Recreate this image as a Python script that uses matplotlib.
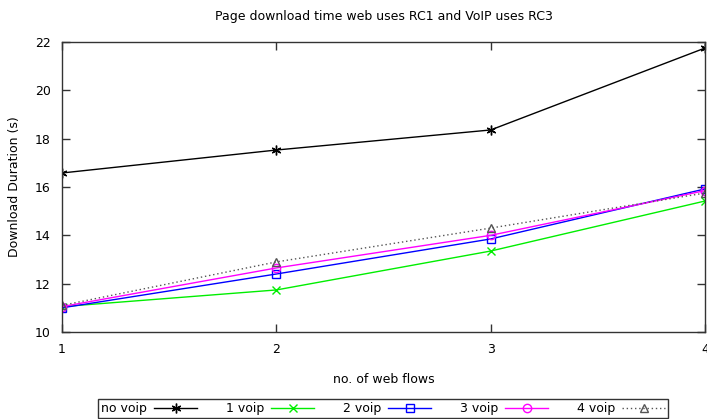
import matplotlib
matplotlib.use("Agg")
import matplotlib.pyplot as plt

web_flows = [1, 2, 3, 4]
no_voip = [16.58, 17.53, 18.36, 21.75]
voip_1 = [11.05, 11.74, 13.35, 15.42]
voip_2 = [11.0, 12.4, 13.85, 15.92]
voip_3 = [11.05, 12.65, 14.0, 15.85]
voip_4 = [11.1, 12.9, 14.3, 15.75]

x_ticks = [1, 2, 3, 4]
y_ticks = [10, 12, 14, 16, 18, 20, 22]

plt.rcParams["font.family"] = ["DejaVu Sans"]
plt.rcParams["font.size"] = 9

fig = plt.figure(figsize=(7.07, 4.19), dpi=100)
ax = fig.add_axes([62 / 707, 1 - 332 / 419, 643 / 707, 290 / 419])

ax.plot(web_flows, no_voip, color="black", lw=1, marker=(6, 2, 0), ms=7, mew=1, label="no voip")
ax.plot(web_flows, voip_1, color="#00ee00", lw=1, marker="x", ms=6, mew=1, label="1 voip")
ax.plot(web_flows, voip_2, color="#0000ff", lw=1, marker="s", ms=6, mfc="none", mew=1, label="2 voip")
ax.plot(web_flows, voip_3, color="#ff00ff", lw=1, marker="o", ms=6, mfc="none", mew=1, label="3 voip")
ax.plot(web_flows, voip_4, color="#555555", lw=1, ls=(0, (1, 2)), marker="^", ms=6, mfc="none", mew=1, label="4 voip")

ax.set_xlim(1, 4)
ax.set_ylim(10, 22)
ax.set_xticks(x_ticks)
ax.set_yticks(y_ticks)
ax.tick_params(direction="in", top=True, right=True, length=6, width=1, colors="#333333",
               labelcolor="black", labelsize=9, pad=8)
for s in ax.spines.values():
    s.set_color("#333333")
    s.set_linewidth(1)

ax.set_title("Page download time web uses RC1 and VoIP uses RC3", fontsize=9, pad=16)
ax.set_xlabel("no. of web flows", fontsize=9, labelpad=12)
ax.set_ylabel("Download Duration (s)", fontsize=9, labelpad=10)

leg = fig.legend(loc="upper center", bbox_to_anchor=(383 / 707, 1 - 399 / 419), ncol=5,
                 markerfirst=False, frameon=True, fancybox=False, handlelength=3.4,
                 columnspacing=2.3, handletextpad=0.6, borderpad=0.25, borderaxespad=0,
                 fontsize=9)
leg.get_frame().set_edgecolor("black")
leg.get_frame().set_linewidth(1)

fig.savefig("out.png", dpi=100)
